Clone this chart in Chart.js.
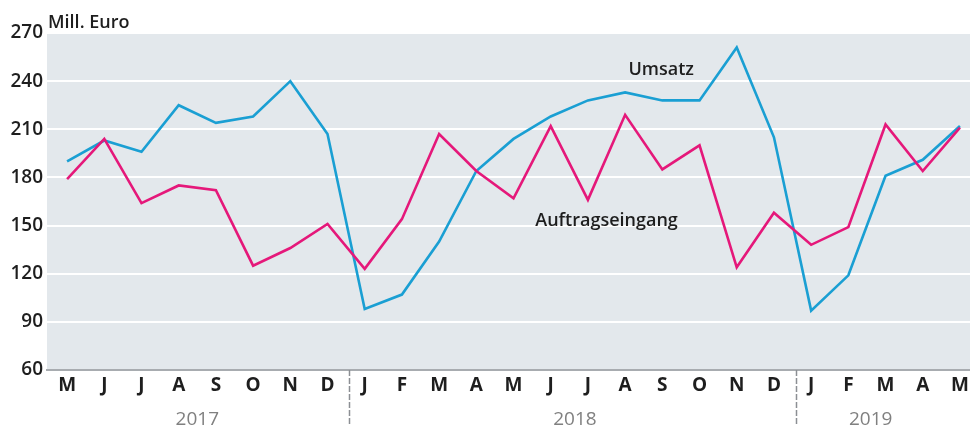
<!DOCTYPE html>
<html>
<head>
<meta charset="utf-8">
<script src="https://cdn.jsdelivr.net/npm/chart.js@4.4.1/dist/chart.umd.min.js"></script>
<style>
  body { margin: 0; background: #fff; }
  #wrap { width: 970px; height: 425px; }
</style>
</head>
<body>
<div id="wrap"><canvas id="chart" width="970" height="425"></canvas></div>
<script>
// Monatsdaten Mai 2017 - Mai 2019
var months = ["M", "J", "J", "A", "S", "O", "N", "D",
              "J", "F", "M", "A", "M", "J", "J", "A", "S", "O", "N", "D",
              "J", "F", "M", "A", "M"];
var umsatz = [190, 203, 196, 225, 214, 218, 240, 207,
              98, 107, 140, 184, 204, 218, 228, 233, 228, 228, 261, 205,
              97, 119, 181, 191, 212];
var auftragseingang = [179, 204, 164, 175, 172, 125, 136, 151,
                       123, 154, 207, 184, 167, 212, 166, 219, 185, 200, 124, 158,
                       138, 149, 213, 184, 211];
var yTicks = [60, 90, 120, 150, 180, 210, 240, 270];

// Jahre unter der Achse
var years = ["2017", "2018", "2019"];
var yearPos = [3.5, 13.65, 21.6];
var yearBreaks = [7.58, 19.6];

var fontName = "'Open Sans', 'Liberation Sans', sans-serif";

function toPoints(arr) {
    return arr.map(function (v, i) { return {x: i, y: v}; });
}

var extras = {
    id: 'extras',
    beforeDraw: function (chart) {
        var ctx = chart.ctx;
        var a = chart.chartArea;
        ctx.save();
        ctx.fillStyle = '#e3e8ec';
        ctx.fillRect(a.left, a.top, a.right - a.left, a.bottom - a.top);
        ctx.restore();
    },
    afterDraw: function (chart) {
        var ctx = chart.ctx;
        var a = chart.chartArea;
        var x = chart.scales.x;
        var y = chart.scales.y;
        ctx.save();

        // Einheit
        ctx.fillStyle = '#1e1e1e';
        ctx.font = '600 18px ' + fontName;
        ctx.textAlign = 'left';
        ctx.textBaseline = 'alphabetic';
        ctx.fillText('Mill. Euro', a.left + 1, a.top - 5);

        // Jahrestrenner
        ctx.strokeStyle = '#8c8f94';
        ctx.lineWidth = 1.5;
        ctx.setLineDash([6, 2]);
        yearBreaks.forEach(function (b) {
            var px = Math.round(x.getPixelForValue(b)) + 0.5;
            ctx.beginPath();
            ctx.moveTo(px, a.bottom);
            ctx.lineTo(px, chart.height);
            ctx.stroke();
        });
        ctx.setLineDash([]);

        // Jahre
        ctx.fillStyle = '#808080';
        ctx.font = '19px ' + fontName;
        ctx.textAlign = 'center';
        ctx.textBaseline = 'alphabetic';
        years.forEach(function (yr, i) {
            ctx.fillText(yr, x.getPixelForValue(yearPos[i]), a.bottom + 55);
        });

        // Serienbeschriftung
        ctx.fillStyle = '#1e1e1e';
        ctx.font = '600 18px ' + fontName;
        ctx.textBaseline = 'middle';
        ctx.fillText('Umsatz', x.getPixelForValue(15.97), y.getPixelForValue(247));
        ctx.fillText('Auftragseingang', x.getPixelForValue(14.5), y.getPixelForValue(153));
        ctx.restore();
    }
};

new Chart(document.getElementById('chart'), {
    type: 'line',
    data: {
        datasets: [{
            label: 'Auftragseingang',
            data: toPoints(auftragseingang),
            borderColor: '#e5187a',
            borderWidth: 2.6,
            pointRadius: 0,
            tension: 0
        }, {
            label: 'Umsatz',
            data: toPoints(umsatz),
            borderColor: '#1a9fd3',
            borderWidth: 2.6,
            pointRadius: 0,
            tension: 0
        }]
    },
    options: {
        responsive: false,
        animation: false,
        layout: {padding: {top: 33, right: 0, left: 0, bottom: 0}},
        plugins: {legend: {display: false}, tooltip: {enabled: false}},
        scales: {
            x: {
                type: 'linear',
                min: -0.54,
                max: 24.27,
                afterBuildTicks: function (scale) {
                    scale.ticks = months.map(function (m, i) { return {value: i}; });
                },
                afterFit: function (scale) {
                    scale.height = 55;
                    scale.paddingLeft = 0;
                    scale.paddingRight = 0;
                },
                grid: {display: false, drawTicks: false},
                border: {display: true, color: '#a8acb0', width: 2},
                ticks: {
                    autoSkip: false,
                    maxRotation: 0,
                    padding: 4,
                    color: '#1e1e1e',
                    font: {family: fontName, size: 19, weight: 'bold'},
                    callback: function (v) { return months[v]; }
                }
            },
            y: {
                min: 60,
                max: 270,
                afterBuildTicks: function (scale) {
                    scale.ticks = yTicks.map(function (v) { return {value: v}; });
                },
                afterFit: function (scale) { scale.width = 47; },
                grid: {color: '#ffffff', lineWidth: 2, drawTicks: false},
                border: {display: false},
                ticks: {
                    padding: 4,
                    color: '#1e1e1e',
                    font: {family: fontName, size: 19, weight: '600'}
                }
            }
        }
    },
    plugins: [extras]
});
</script>
</body>
</html>
